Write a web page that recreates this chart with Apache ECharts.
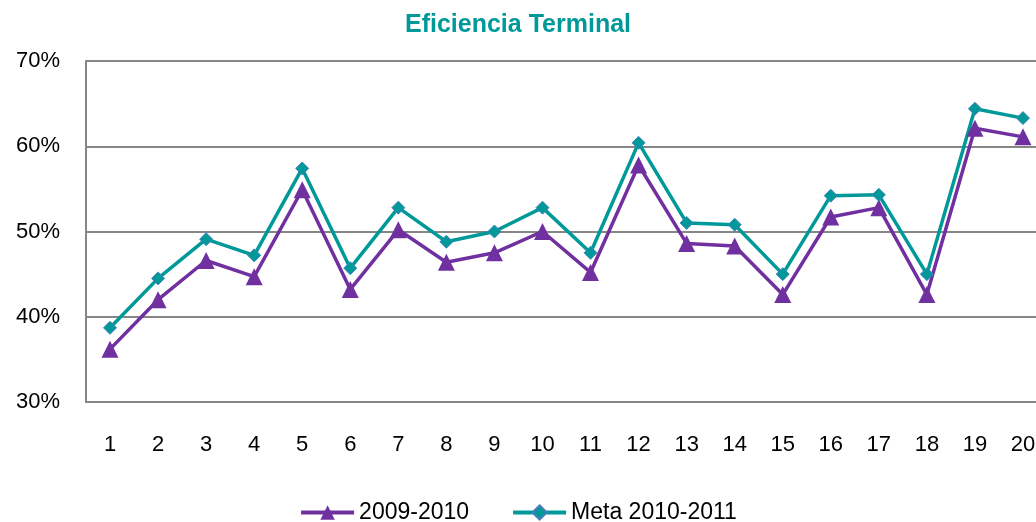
<!DOCTYPE html>
<html lang="es">
<head>
    <meta charset="UTF-8">
    <title>Eficiencia Terminal</title>
    <script src="https://cdn.jsdelivr.net/npm/echarts@6/dist/echarts.min.js"></script>
    <style>
        html, body { margin: 0; padding: 0; background: #fff; }
        #main { width: 1036px; height: 522px; }
    </style>
</head>
<body>
<div id="main"></div>
<script type="text/javascript">
    // datos
    var categorias = ['1','2','3','4','5','6','7','8','9','10','11','12','13','14','15','16','17','18','19','20'];
    var serie2009 = [36.2, 42.0, 46.6, 44.7, 54.9, 43.2, 50.2, 46.4, 47.5, 50.0, 45.2, 57.8, 48.6, 48.3, 42.6, 51.7, 52.8, 42.6, 62.1, 61.1];
    var metaSerie = [38.7, 44.5, 49.1, 47.2, 57.4, 45.7, 52.8, 48.8, 50.0, 52.8, 47.5, 60.4, 51.0, 50.8, 45.0, 54.2, 54.3, 45.0, 64.4, 63.3];
    var nombres = ['2009-2010', 'Meta 2010-2011'];

    var morado = '#7030A0';
    var verde = '#009999';

    var myChart = echarts.init(document.getElementById('main'));

    var option = {
        animation: false,
        title: {
            text: 'Eficiencia Terminal',
            left: 'center',
            top: 8,
            textStyle: {
                color: verde,
                fontFamily: 'Liberation Sans',
                fontWeight: 'bold',
                fontSize: 25
            }
        },
        legend: {
            top: 496,
            left: 'center',
            itemWidth: 53,
            itemHeight: 18,
            itemGap: 42,
            data: nombres,
            lineStyle: { width: 4 },
            textStyle: {
                color: '#000',
                fontFamily: 'Liberation Sans',
                fontSize: 23
            }
        },
        // el grafico original queda cortado a la derecha
        grid: {
            left: 86,
            width: 961,
            top: 61,
            bottom: 120,
            outerBoundsMode: 'none'
        },
        xAxis: {
            type: 'category',
            data: categorias,
            boundaryGap: true,
            axisLine: { lineStyle: { color: '#868686', width: 2 } },
            axisTick: { show: false },
            axisLabel: {
                color: '#000',
                fontFamily: 'Liberation Sans',
                fontSize: 22,
                margin: 32
            }
        },
        yAxis: {
            type: 'value',
            min: 30,
            max: 70,
            interval: 10,
            axisLine: { show: true, lineStyle: { color: '#868686', width: 2 } },
            axisTick: { show: false },
            splitLine: { lineStyle: { color: '#868686', width: 2 } },
            axisLabel: {
                color: '#000',
                fontFamily: 'Liberation Sans',
                fontSize: 22,
                margin: 26,
                formatter: '{value}%'
            }
        },
        series: [
            {
                name: nombres[0],
                type: 'line',
                data: serie2009,
                symbol: 'triangle',
                symbolSize: 17,
                lineStyle: { color: morado, width: 3.5 },
                itemStyle: { color: morado }
            },
            {
                name: nombres[1],
                type: 'line',
                data: metaSerie,
                symbol: 'diamond',
                symbolSize: 13,
                lineStyle: { color: verde, width: 3.5 },
                itemStyle: { color: verde, borderColor: '#4A7EBB', borderWidth: 1 }
            }
        ]
    };

    myChart.setOption(option);
</script>
</body>
</html>
